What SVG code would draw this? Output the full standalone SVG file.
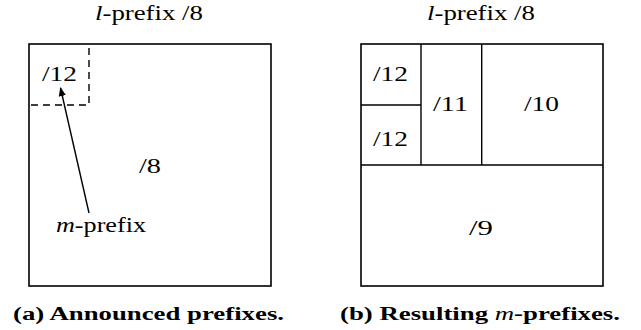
<svg xmlns="http://www.w3.org/2000/svg" width="641" height="330" viewBox="0 0 641 330" font-family="'Liberation Serif', 'Times New Roman', 'DejaVu Serif', serif">
<style>
.box{fill:none;stroke:#000;stroke-width:1.6}
.ln{fill:none;stroke:#000;stroke-width:1.4}
.dash{fill:none;stroke:#000;stroke-width:1.4;stroke-dasharray:7,5}
text{font-family:'Liberation Serif','Times New Roman','DejaVu Serif',serif;font-size:21px;fill:#000}
.cap{font-weight:bold;font-size:18px}
.it{font-style:italic}
</style>
<defs>
<marker id="ah" viewBox="0 0 10 10" refX="9" refY="5" markerWidth="9" markerHeight="9" markerUnits="userSpaceOnUse" orient="auto">
<path d="M0,1 L10,5 L0,9 Z" fill="#000"/>
</marker>
</defs>
<g id="panel-a">
<text x="149" y="20" text-anchor="middle" textLength="108" lengthAdjust="spacingAndGlyphs"><tspan class="it">l</tspan>-prefix /8</text>
<g id="a-l8"><rect class="box" x="29" y="44" width="242" height="242"/><text x="139" y="173" textLength="22" lengthAdjust="spacingAndGlyphs">/8</text></g>
<g id="a-m12"><path class="dash" d="M89,48 V105 H29"/><text x="42" y="81" textLength="35" lengthAdjust="spacingAndGlyphs">/12</text></g>
<g id="a-mlabel"><text x="56" y="232" textLength="90" lengthAdjust="spacingAndGlyphs"><tspan class="it">m</tspan>-prefix</text></g>
<g id="connectors"><line class="ln" x1="89" y1="213" x2="60.5" y2="88" marker-end="url(#ah)"/></g>
<text class="cap" x="13" y="320" textLength="271" lengthAdjust="spacingAndGlyphs">(a) Announced prefixes.</text>
</g>
<g id="panel-b">
<text x="481" y="20" text-anchor="middle" textLength="108" lengthAdjust="spacingAndGlyphs"><tspan class="it">l</tspan>-prefix /8</text>
<rect class="box" x="361" y="44" width="242" height="242"/>
<g id="b-12a"><text x="373" y="81" textLength="35" lengthAdjust="spacingAndGlyphs">/12</text></g>
<g id="b-12b"><text x="373" y="146" textLength="35" lengthAdjust="spacingAndGlyphs">/12</text></g>
<g id="b-11"><text x="433" y="111" textLength="35" lengthAdjust="spacingAndGlyphs">/11</text></g>
<g id="b-10"><text x="524" y="111" textLength="35" lengthAdjust="spacingAndGlyphs">/10</text></g>
<g id="b-9"><text x="469" y="235" textLength="24" lengthAdjust="spacingAndGlyphs">/9</text></g>
<path class="ln" d="M361,165 H603 M421,44 V165 M481.7,44 V165 M361,105 H421"/>
<text class="cap" x="340" y="320" textLength="280" lengthAdjust="spacingAndGlyphs">(b) Resulting <tspan class="it" font-weight="normal">m</tspan>-prefixes.</text>
</g>
</svg>
